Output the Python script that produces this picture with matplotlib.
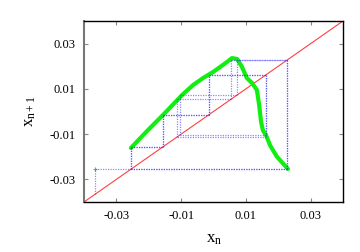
import numpy as np
import matplotlib
matplotlib.use('Agg')
import matplotlib.pyplot as plt

plt.rcParams['font.family'] = 'Liberation Serif'
plt.rcParams['mathtext.fontset'] = 'custom'
plt.rcParams['mathtext.rm'] = 'Liberation Serif'
plt.rcParams['mathtext.it'] = 'Liberation Serif'

# reconstructed return map x_n -> x_{n+1}
map_x = [-0.0255, -0.0205, -0.0153, -0.0097, -0.0063, -0.0032, -0.0001, 0.0042,
         0.0057, 0.0073, 0.0088, 0.0103, 0.0119, 0.0134, 0.0141, 0.0147,
         0.0153, 0.0162, 0.0175, 0.0196, 0.0230]
map_y = [-0.0161, -0.0086, -0.0011, 0.0073, 0.0117, 0.0148, 0.0175, 0.0219,
         0.0236, 0.0232, 0.0197, 0.0148, 0.0126, 0.0095, 0.0029, -0.0046,
         -0.0085, -0.0104, -0.0150, -0.0200, -0.0254]

# iterates used for the cobweb
orbit = [-0.0366, -0.0254, -0.0157, -0.0015, 0.0161, -0.0104, 0.0073, 0.0228,
         -0.0254, -0.0157, -0.0015, 0.0161, -0.0113, 0.0055, 0.0228, -0.0254]

ticks = [-0.03, -0.01, 0.01, 0.03]
lims = (-0.04, 0.04)

fig = plt.figure(figsize=(3.6, 2.52), dpi=100)
ax = fig.add_axes([84/360, 1 - 202/252, 259/360, 181/252])

# diagonal y = x
ax.plot(lims, lims, color='#ff4040', lw=0.8, zorder=2)

# map curve
ax.plot(map_x, map_y, color='#11ee11', lw=3.0, solid_capstyle='round',
        solid_joinstyle='round', zorder=3)
ax.plot(orbit[0], orbit[1], marker='+', color='#11ee11', ms=3, mew=0.8, zorder=3)

# cobweb: vertical to the map, horizontal to the diagonal
cx, cy = [orbit[0]], [orbit[0]]
for a, b in zip(orbit[:-1], orbit[1:]):
    cx += [a, b]
    cy += [b, b]
for i in range(len(cx) - 1):
    ax.plot(cx[i:i + 2], cy[i:i + 2], color='#2a2aff', alpha=0.55, lw=0.9,
            linestyle=(0, (1, 1)), zorder=4)

ax.set_xlim(lims)
ax.set_ylim(lims)
ax.set_xticks(ticks)
ax.set_yticks(ticks)
ax.set_xticklabels(['-0.03', '-0.01', '0.01', '0.03'])
ax.set_yticklabels(['-0.03', '-0.01', '0.01', '0.03'])
ax.tick_params(direction='in', length=3, width=0.8, color='#888888',
               top=True, right=True, labelsize=9, pad=6)

for side in ['top', 'right', 'bottom']:
    ax.spines[side].set_color('black')
    ax.spines[side].set_linewidth(1.0)
ax.spines['left'].set_color('#777777')
ax.spines['left'].set_linewidth(1.5)

ax.set_xlabel(r'$x_n$', fontsize=12, labelpad=6)
ax.set_ylabel(r'$x_{n+1}$', fontsize=12, labelpad=8)

fig.savefig('out.png', dpi=100)
